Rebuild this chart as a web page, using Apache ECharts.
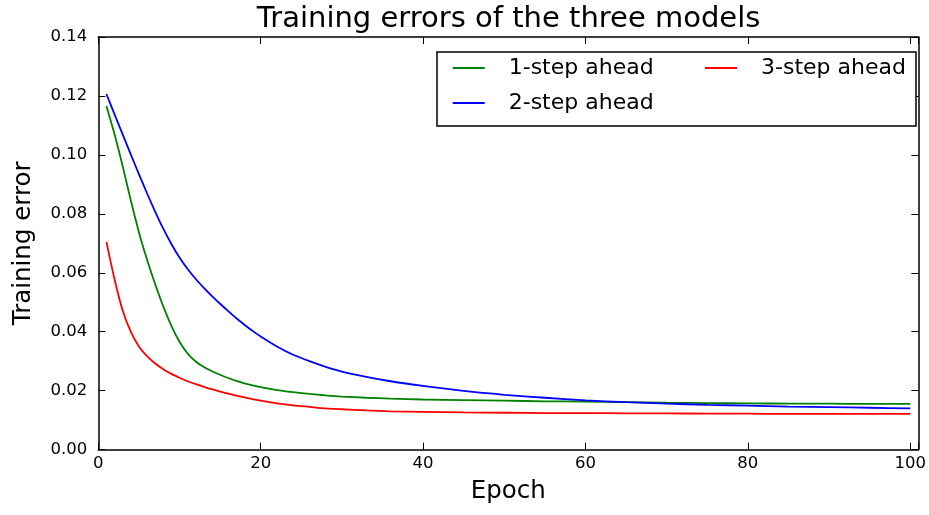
<!DOCTYPE html>
<html><head><meta charset="utf-8">
<script src="https://cdn.jsdelivr.net/npm/echarts@6/dist/echarts.min.js"></script>
<style>html,body{margin:0;padding:0;background:#fff}#c{width:929px;height:515px}</style>
</head><body><div id="c"></div>
<script>
const epochs = [1,2,3,4,5,6,7,8,9,10,11,12,13,14,15,16,17,18,19,20,22,24,26,28,30,33,36,40,45,50,55,60,65,70,75,80,85,90,95,100];
const oneStep = [0.1166,0.1070,0.0962,0.0846,0.0738,0.0645,0.0562,0.0486,0.0420,0.0366,0.0326,0.0299,0.0280,0.0266,0.0254,0.0243,0.0233,0.0225,0.0218,0.0212,0.0202,0.0195,0.0189,0.0184,0.0180,0.0176,0.0173,0.0170,0.0168,0.0166,0.0164,0.0163,0.0161,0.0159,0.0158,0.0157,0.0156,0.0156,0.0155,0.0155];
const twoStep = [0.1207,0.1138,0.1070,0.1002,0.0935,0.0870,0.0808,0.0750,0.0698,0.0652,0.0613,0.0579,0.0549,0.0521,0.0495,0.0470,0.0446,0.0424,0.0403,0.0384,0.0350,0.0322,0.0300,0.0281,0.0265,0.0247,0.0232,0.0216,0.0199,0.0186,0.0176,0.0167,0.0161,0.0156,0.0152,0.0149,0.0146,0.0144,0.0142,0.0140];
const threeStep = [0.0705,0.0578,0.0472,0.0400,0.0350,0.0317,0.0292,0.0273,0.0257,0.0244,0.0232,0.0222,0.0213,0.0205,0.0197,0.0190,0.0183,0.0177,0.0171,0.0166,0.0157,0.0150,0.0145,0.0140,0.0137,0.0133,0.0130,0.0128,0.0126,0.0125,0.0124,0.0124,0.0123,0.0123,0.0122,0.0122,0.0121,0.0121,0.0121,0.0121];
const seriesNames = ['1-step ahead','2-step ahead','3-step ahead'];
const seriesColors = ['#008000','#0000ff','#ff0000'];
const xTickLabels = [0,20,40,60,80,100];
const yTickLabels = ['0.00','0.02','0.04','0.06','0.08','0.10','0.12','0.14'];

const FONT = 'DejaVu Sans';
const chart = echarts.init(document.getElementById('c'), null, {renderer:'canvas'});
const mkLine = () => ({show:true, onZero:false, lineStyle:{color:'#000', width:1.5}});
const mkTick = () => ({show:true, inside:true, length:7, lineStyle:{color:'#000', width:1}});
const values = [oneStep, twoStep, threeStep];
const legendText = {fontFamily:FONT, fontSize:22, color:'#000', lineHeight:26, padding:[0,0,0,19]};

chart.setOption({
  animation:false,
  backgroundColor:'#fff',
  title:{text:'Training errors of the three models', left:508.6, top:5, textAlign:'center', padding:0,
    textStyle:{fontFamily:FONT, fontSize:29, fontWeight:'normal', color:'#000'}},
  grid:{left:98.3, right:8.6, top:37.1, bottom:65.4, containLabel:false},
  graphic:[{type:'rect', z:3, shape:{x:437, y:52, width:479, height:74},
    style:{fill:'#fff', stroke:'#000', lineWidth:1.5}}],
  legend:[
    {orient:'vertical', left:452.7, top:55, padding:0, itemWidth:32, itemHeight:2, itemGap:9, selectedMode:false,
     icon:'rect', data:['1-step ahead','2-step ahead'], textStyle:legendText},
    {orient:'vertical', left:705, top:55, padding:0, itemWidth:32, itemHeight:2, itemGap:9, selectedMode:false,
     icon:'rect', data:['3-step ahead'], textStyle:legendText}
  ],
  xAxis:[
    {type:'value', position:'bottom', min:0, max:101, interval:20,
     axisLine:mkLine(), axisTick:mkTick(), splitLine:{show:false},
     axisLabel:{margin:6, fontFamily:FONT, fontSize:16.5, color:'#000',
       formatter:v => xTickLabels.includes(v) ? String(v) : ''},
     name:'Epoch', nameLocation:'middle', nameGap:30,
     nameTextStyle:{fontFamily:FONT, fontSize:24.5, color:'#000'}},
    {type:'value', position:'top', min:0, max:101, interval:20,
     axisLine:mkLine(), axisTick:mkTick(), splitLine:{show:false}, axisLabel:{show:false}}
  ],
  yAxis:[
    {type:'value', position:'left', min:0, max:0.14, interval:0.02,
     axisLine:mkLine(), axisTick:mkTick(), splitLine:{show:false},
     axisLabel:{margin:11, fontFamily:FONT, fontSize:16.5, color:'#000',
       formatter:v => yTickLabels[Math.round(v/0.02)] || ''},
     name:'Training error', nameLocation:'middle', nameGap:62,
     nameTextStyle:{fontFamily:FONT, fontSize:24.5, color:'#000'}},
    {type:'value', position:'right', min:0, max:0.14, interval:0.02,
     axisLine:mkLine(), axisTick:mkTick(), splitLine:{show:false}, axisLabel:{show:false}}
  ],
  series: seriesNames.map((n,k) => ({
    name:n, type:'line', symbol:'none', smooth:0.25,
    lineStyle:{color:seriesColors[k], width:1.8}, itemStyle:{color:seriesColors[k]},
    data: epochs.map((e,i) => [e, values[k][i]])
  }))
});
</script></body></html>
